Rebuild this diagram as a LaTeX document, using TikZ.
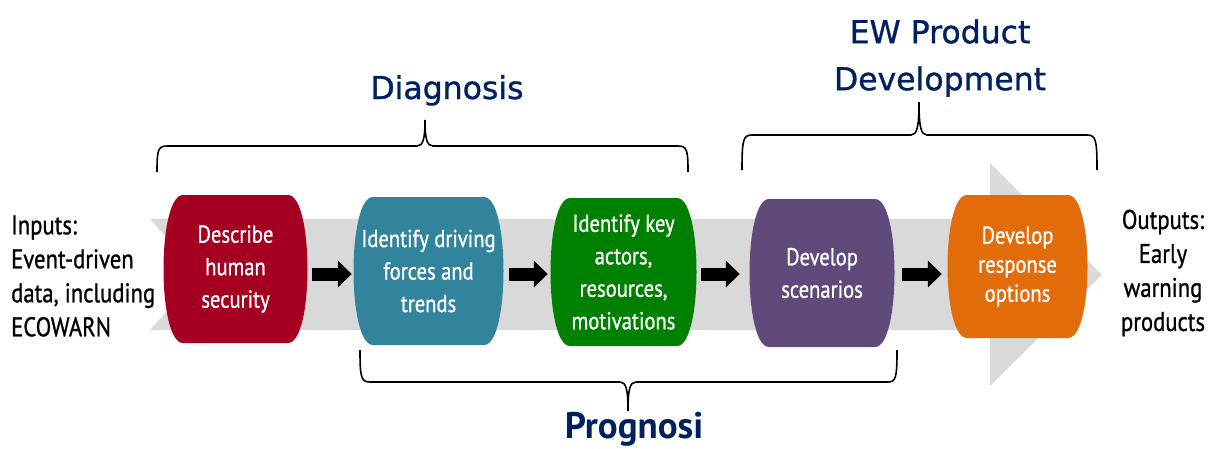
\documentclass[tikz,border=0pt]{standalone}
\usepackage{fontspec}
\usetikzlibrary{calc,arrows.meta}
\newfontfamily\ptc[FakeStretch=0.84,FakeBold=0.9]{PT Sans}
\newfontfamily\ptbold{PT Sans}
\newfontfamily\ttl[FakeBold=1]{DejaVu Sans}
\definecolor{cred}{HTML}{A50021}
\definecolor{cteal}{HTML}{31849B}
\definecolor{cgreen}{HTML}{008000}
\definecolor{cpurp}{HTML}{604A7B}
\definecolor{corange}{HTML}{E36C0A}
\definecolor{cgray}{HTML}{D9D9D9}
\definecolor{navy}{HTML}{002060}
\tikzset{
  barrel/.style={inner sep=0pt, text=white, align=center,
    font={\ptc\fontsize{24.5}{32.5}\selectfont},
    path picture={
      \fill[#1] let \p1=(path picture bounding box.north west),
                    \p2=(path picture bounding box.south east) in
        (\x1+20pt,\y1) -- (\x2-20pt,\y1)
        .. controls (\x2+6pt,\y1) and (\x2+6pt,\y2) .. (\x2-20pt,\y2)
        -- (\x1+20pt,\y2)
        .. controls (\x1-6pt,\y2) and (\x1-6pt,\y1) .. (\x1+20pt,\y1) -- cycle;}},
  blk/.style={draw=black, line width=13pt, -{Triangle[length=14pt,width=26pt]}},
  brc/.style={draw=black, line width=1.6pt},
  ttlstyle/.style={text=navy, font={\ttl\fontsize{31.5}{47}\selectfont}, inner sep=0pt, align=center},
  sidetext/.style={text=black, font={\ptc\fontsize{27}{34}\selectfont}, inner sep=0pt},
}
\begin{document}
\begin{tikzpicture}[x=1pt,y=-1pt]
\useasboundingbox (0,0) rectangle (1210,448);
% big gray arrow
\fill[cgray] (150,219) -- (990,219) -- (990,163) -- (1102,275) -- (990,386)
  -- (990,330) -- (150,330) -- (200,275) -- cycle;
% boxes
\node[barrel=cred, minimum width=145pt, minimum height=148pt] (n1) at (235.5,269) {Describe\\human\\security};
\node[barrel=cteal, minimum width=151pt, minimum height=148pt] (n2) at (428.5,271) {Identify driving\\forces and\\trends};
\node[barrel=cgreen, minimum width=147pt, minimum height=148pt] (n3) at (623.5,272) {Identify key\\actors,\\resources,\\motivations};
\node[barrel=cpurp, minimum width=146pt, minimum height=148pt] (n4) at (822,273) {Develop\\scenarios};
\node[barrel=corange, minimum width=141pt, minimum height=143pt, font={\ptc\fontsize{24.5}{29}\selectfont}] (n5) at (1017.5,266.5) {Develop\\response\\options};
% connectors
\coordinate (ay) at (0,274);
\draw[blk] ([xshift=4pt]n1.east |- ay) -- ([xshift=-1pt]n2.west |- ay);
\draw[blk] ([xshift=5pt]n2.east |- ay) -- ([xshift=-2pt]n3.west |- ay);
\draw[blk] ([xshift=4pt]n3.east |- ay) -- ([xshift=-9pt]n4.west |- ay);
\draw[blk] ([xshift=7pt]n4.east |- ay) -- ([xshift=-5pt]n5.west |- ay);
% side texts
\node[sidetext, anchor=west, align=left] (inp) at (11,276) {Inputs:\\Event-driven\\data, including\\ECOWARN};
\node[sidetext, align=center] (outp) at (1163,273) {Outputs:\\Early\\warning\\products};
% braces
\draw[brc] (157,172) .. controls (157,150) and (158,146) .. (167,146) -- (417,146)
  .. controls (423,146) and (425,139) .. (425,120)
  .. controls (425,139) and (427,146) .. (433,146) -- (678,146)
  .. controls (687,146) and (688,150) .. (688,172);
\draw[brc] (742,170) .. controls (742,140) and (743,135) .. (752,135) -- (911,135)
  .. controls (917,135) and (919,127) .. (919,102)
  .. controls (919,127) and (921,135) .. (927,135) -- (1087,135)
  .. controls (1096,135) and (1097,140) .. (1097,170);
\draw[brc] (360,350) .. controls (360,377) and (361,382) .. (370,382) -- (620,382)
  .. controls (626,382) and (628,389) .. (628,411)
  .. controls (628,389) and (630,382) .. (636,382) -- (888,382)
  .. controls (896,382) and (897,377) .. (897,350);
% labels
\node[ttlstyle, anchor=base] (dg) at (447,99) {Diagnosis};
\node[ttlstyle] (ew) at (940,58) {EW Product\\Development};
\node[text=navy, inner sep=0pt, anchor=base, font={\ptbold\bfseries\fontsize{37}{40}\selectfont}] (pg) at (634,438) {Prognosi};
\end{tikzpicture}
\end{document}
